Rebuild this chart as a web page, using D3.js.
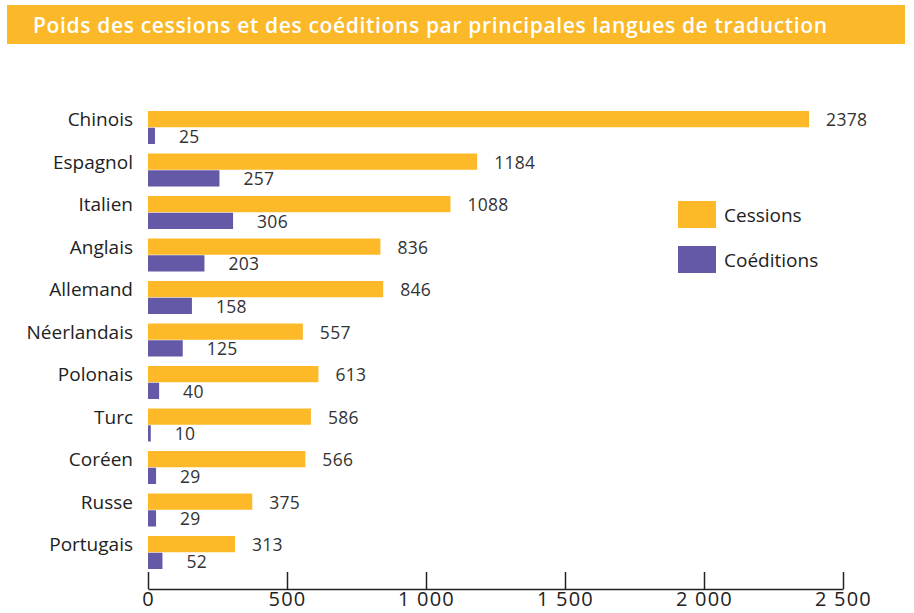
<!DOCTYPE html>
<html lang="fr">
<head>
<meta charset="utf-8">
<title>Poids des cessions et des coéditions</title>
<script src="https://cdn.jsdelivr.net/npm/d3@7"></script>
<style>
  body { margin: 0; background: #fff; }
  svg { display: block; font-family: 'Open Sans', sans-serif; }
</style>
</head>
<body>
<svg id="chart"></svg>
<script>
const chartTitle = 'Poids des cessions et des coéditions par principales langues de traduction';
const languages = ['Chinois', 'Espagnol', 'Italien', 'Anglais', 'Allemand', 'Néerlandais', 'Polonais', 'Turc', 'Coréen', 'Russe', 'Portugais'];
const cessions = [2378, 1184, 1088, 836, 846, 557, 613, 586, 566, 375, 313];
const coeditions = [25, 257, 306, 203, 158, 125, 40, 10, 29, 29, 52];
const seriesKeys = ['cessions', 'coeditions'];
const seriesLabels = ['Cessions', 'Coéditions'];
const xTicks = [0, 500, 1000, 1500, 2000, 2500];

class TranslationChart {
  constructor() {
    this.width = 914;
    this.height = 613;
    this.colors = { cessions: '#fdb927', coeditions: '#6459a6' };
    this.svg = d3.select('#chart')
      .attr('width', this.width)
      .attr('height', this.height)
      .attr('viewBox', `0 0 ${this.width} ${this.height}`);

    // rows built from the arrays above
    this.rows = languages.map((lang, i) => ({
      lang,
      cessions: cessions[i],
      coeditions: coeditions[i]
    }));

    this.setupScales();
    this.drawTitle();
    this.drawBars();
    this.drawAxis();
    this.drawLegend();
  }

  setupScales() {
    this.x = d3.scaleLinear().domain([0, 2500]).range([148, 843]);
    this.y = d3.scaleBand()
      .domain(languages)
      .range([111, 569])
      .paddingInner(0.2235)
      .paddingOuter(0);
    this.inner = d3.scaleBand()
      .domain(seriesKeys)
      .range([0, this.y.bandwidth()])
      .paddingInner(0.03);
  }

  drawTitle() {
    this.svg.append('rect')
      .attr('x', 7).attr('y', 5)
      .attr('width', 898).attr('height', 39)
      .attr('fill', '#fbb829');
    this.svg.append('text')
      .attr('x', 33).attr('y', 25)
      .attr('dominant-baseline', 'central')
      .attr('fill', '#fff')
      .style('font-size', '21px')
      .style('font-weight', 600)
      .style('letter-spacing', '0.65px')
      .text(chartTitle);
  }

  drawBars() {
    const gap = { cessions: 17, coeditions: 24 };
    const rowG = this.svg.append('g')
      .selectAll('g.row')
      .data(this.rows)
      .join('g')
      .attr('class', 'row')
      .attr('transform', d => `translate(0,${this.y(d.lang)})`);

    rowG.selectAll('rect')
      .data(d => seriesKeys.map(k => ({ key: k, value: d[k] })))
      .join('rect')
      .attr('x', this.x(0))
      .attr('y', d => this.inner(d.key))
      .attr('width', d => this.x(d.value) - this.x(0))
      .attr('height', this.inner.bandwidth())
      .attr('fill', d => this.colors[d.key]);

    rowG.selectAll('text.value')
      .data(d => seriesKeys.map(k => ({ key: k, value: d[k] })))
      .join('text')
      .attr('class', 'value')
      .attr('x', d => this.x(d.value) + gap[d.key])
      .attr('y', d => this.inner(d.key) + this.inner.bandwidth() / 2)
      .attr('dominant-baseline', 'central')
      .attr('fill', '#333')
      .style('font-size', '17.5px')
      .style('letter-spacing', '0.3px')
      .text(d => d.value);

    // language names, centred on the cession bar
    rowG.append('text')
      .attr('x', 133)
      .attr('y', this.inner('cessions') + this.inner.bandwidth() / 2)
      .attr('text-anchor', 'end')
      .attr('dominant-baseline', 'central')
      .attr('fill', '#222')
      .style('font-size', '19px')
      .text(d => d.lang);
  }

  drawAxis() {
    const fr = d3.formatLocale({ decimal: ',', thousands: ' ', grouping: [3], currency: ['', ' €'] });
    const axis = d3.axisBottom(this.x)
      .tickValues(xTicks)
      .tickSizeInner(-17)
      .tickSizeOuter(0)
      .tickPadding(3)
      .tickFormat(fr.format(',d'));

    const g = this.svg.append('g')
      .attr('transform', 'translate(0,589)')
      .call(axis);
    g.select('.domain').attr('stroke', '#222').attr('stroke-width', 1.5);
    g.selectAll('.tick line').attr('stroke', '#222').attr('stroke-width', 1.5);
    // labels sit low, close to the bottom edge as in the original
    g.selectAll('.tick text')
      .attr('fill', '#222')
      .style('font-size', '20px')
      .style('letter-spacing', '1.2px')
      .style('font-family', "'Open Sans', sans-serif");
  }

  drawLegend() {
    const legend = this.svg.append('g')
      .selectAll('g')
      .data(seriesKeys)
      .join('g')
      .attr('transform', (d, i) => `translate(678,${201 + i * 45})`);

    legend.append('rect')
      .attr('width', 38).attr('height', 27)
      .attr('fill', d => this.colors[d]);
    legend.append('text')
      .attr('x', 46).attr('y', 14)
      .attr('dominant-baseline', 'central')
      .attr('fill', '#222')
      .style('font-size', '19px')
      .text((d, i) => seriesLabels[i]);
  }
}

new TranslationChart();
</script>
</body>
</html>
